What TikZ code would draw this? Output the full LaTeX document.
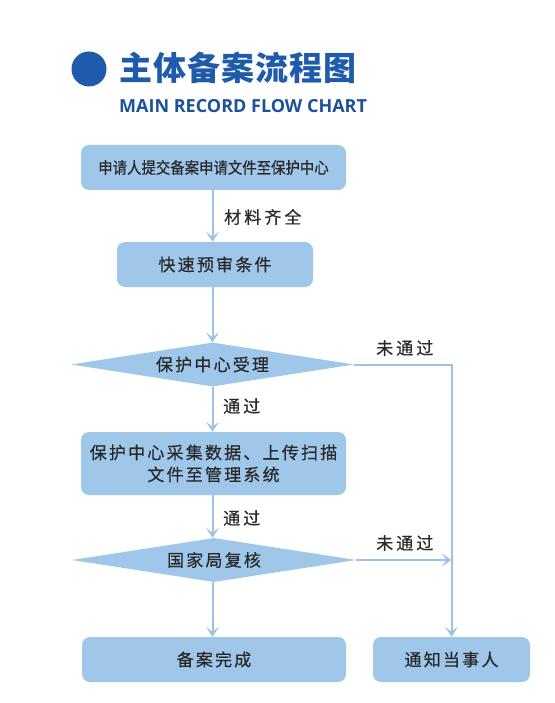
\documentclass[tikz,border=0pt]{standalone}
\usepackage{fontspec}
\usetikzlibrary{arrows.meta,shapes.geometric}
\setmainfont{Noto Sans CJK SC}
\newfontfamily\cjksp{Noto Sans CJK SC}[LetterSpace=13,FakeBold=0.6]
\newfontfamily\cjknar{Noto Sans CJK SC}[FakeStretch=0.9,FakeBold=0.6]
\newfontfamily\cjklab{Noto Sans CJK SC}[LetterSpace=18,FakeBold=0.6]
\newfontfamily\cjktitle{Noto Sans CJK SC}[LetterSpace=3]
\newfontfamily\latinb{Open Sans}
\definecolor{titleblue}{HTML}{1F5BAB}
\definecolor{boxfill}{HTML}{9EC7E9}
\definecolor{arrowc}{HTML}{9AC3E6}
\definecolor{txt}{HTML}{2A2A2A}
\tikzset{
  stepbox/.style={draw=none, fill=boxfill, rounded corners=8pt, text=txt, inner sep=0pt,
    font=\cjksp\fontsize{17}{22}\selectfont},
  decision/.style={diamond, aspect=6.4, draw=none, fill=boxfill, text=txt, inner sep=0pt,
    font=\cjksp\fontsize{17}{22}\selectfont},
  conn/.style={draw=arrowc, line width=2pt, -{Stealth[length=10pt,width=13pt,inset=5pt]}},
  lab/.style={text=txt, anchor=west, inner sep=0pt, font=\cjklab\fontsize{17}{18}\selectfont},
}
\begin{document}
\begin{tikzpicture}[x=1pt,y=-1pt]
\useasboundingbox (0,0) rectangle (554,703);
\fill[white] (0,0) rectangle (554,703);
% title
\fill[titleblue] (89,69) circle (17.5);
\node[anchor=west, inner sep=0pt, text=titleblue, font=\cjktitle\bfseries\fontsize{33}{36}\selectfont] (title) at (119,68) {主体备案流程图};
\node[anchor=west, inner sep=0pt, text=titleblue!90!black, font=\latinb\bfseries\fontsize{18}{20}\selectfont] (subtitle) at (119,106) {MAIN RECORD FLOW CHART};
% boxes
\node[stepbox, minimum width=265pt, minimum height=45pt, font=\cjknar\fontsize{16}{20}\selectfont] (n1) at (213.5,167.5) {申请人提交备案申请文件至保护中心};
\node[stepbox, minimum width=196pt, minimum height=45pt] (n2) at (215,264.5) {快速预审条件};
\node[decision, minimum width=283pt, minimum height=44pt] (d1) at (212.5,364.5) {保护中心受理};
\node[stepbox, minimum width=265pt, minimum height=63pt, align=center] (n3) at (213.5,463.5) {保护中心采集数据、上传扫描\\文件至管理系统};
\node[decision, minimum width=284pt, minimum height=44pt] (d2) at (214,560) {国家局复核};
\node[stepbox, minimum width=264pt, minimum height=45pt] (n4) at (214,659.5) {备案完成};
\node[stepbox, minimum width=157pt, minimum height=45pt] (n5) at (451.5,659.5) {通知当事人};
% connectors
\draw[conn] (n1.south -| d1.north) -- (n2.north -| d1.north);
\draw[conn] (n2.south -| d1.north) -- (d1.north);
\draw[conn] (d1.south) -- (n3.north -| d1.south);
\draw[conn] (n3.south -| d1.south) -- (d2.north -| d1.south);
\draw[conn] (d2.south -| d1.south) -- (n4.north -| d1.south);
\draw[conn] (d1.east) -| (n5.north);
\draw[conn] (d2.east) -- (d2.east -| n5.north);
% labels
\node[lab] (l1) at (224,217) {材料齐全};
\node[lab] (l2) at (223,406) {通过};
\node[lab] (l3) at (223,518) {通过};
\node[lab] (l4) at (376,348) {未通过};
\node[lab] (l5) at (376,543) {未通过};
\end{tikzpicture}
\end{document}
